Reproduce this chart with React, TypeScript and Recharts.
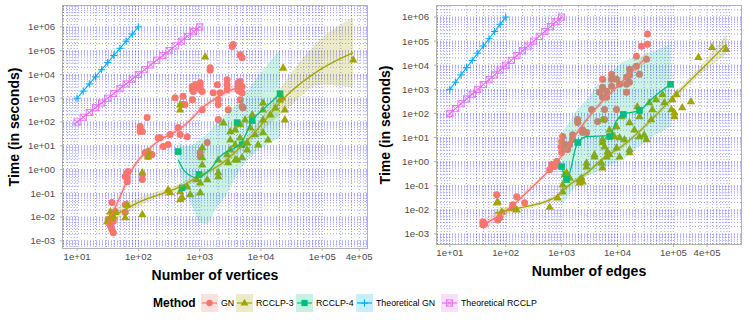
import React from 'react';
import { ComposedChart, XAxis, YAxis, CartesianGrid, Scatter, Line, Area } from 'recharts';

const FONT = '"Liberation Sans", Arial, Helvetica, sans-serif';
const C_GN = '#F8766D';
const C_R3 = '#A3A500';
const C_R4 = '#00BF7D';
const C_TGN = '#00B0F6';
const C_TR = '#E76BF3';

const xTickValues = [10, 100, 1000, 10000, 100000, 400000];
const xTickLabels = ['1e+01', '1e+02', '1e+03', '1e+04', '1e+05', '4e+05'];
const yTickValues = [0.001, 0.01, 0.1, 1, 10, 100, 1000, 10000, 100000, 1000000];
const yTickLabels = ['1e-03', '1e-02', '1e-01', '1e+00', '1e+01', '1e+02', '1e+03', '1e+04', '1e+05', '1e+06'];
const legendLabels = ['GN', 'RCCLP-3', 'RCCLP-4', 'Theoretical GN', 'Theoretical RCCLP'];

// Theoretical curves (same in both panels)
const theoGN = [
  [10, 1000], [12.59, 1995], [15.85, 3981], [19.95, 7943], [25.12, 15849], [31.62, 31623],
  [39.81, 63096], [50.12, 125893], [63.1, 251189], [79.43, 501187], [100, 1000000],
];
const theoRCCLP = [
  [10, 100], [12.59, 158.5], [15.85, 251.2], [19.95, 398.1], [25.12, 631], [31.62, 1000],
  [39.81, 1585], [50.12, 2512], [63.1, 3981], [79.43, 6310], [100, 10000], [125.9, 15849],
  [158.5, 25119], [199.5, 39811], [251.2, 63096], [316.2, 100000], [398.1, 158489],
  [501.2, 251189], [631, 398107], [794.3, 630957], [1000, 1000000],
];

// ---- Left panel: number of vertices ----
const gnVertices = [
  [37, 0.041], [42, 0.017], [39, 0.0066], [35, 0.0044], [37, 0.003], [39, 0.0022], [32, 0.0079], [34, 0.0055],
  [61, 0.034], [61, 0.016], [66, 0.75], [66, 0.46], [68, 0.83], [61, 0.51], [66, 0.31], [64, 0.62],
  [116, 0.62], [116, 0.38], [129, 5.2], [144, 5.7], [139, 4.3], [167, 4.3], [144, 3.5], [107, 64], [107, 48],
  [107, 40], [139, 153], [226, 22], [210, 22], [306, 11.2], [254, 9.3], [330, 30], [398, 1060], [446, 58],
  [480, 30], [626, 24], [535, 1200], [516, 540], [576, 540], [758, 870], [758, 3100], [758, 2300], [786, 1900],
  [850, 3700], [900, 2800], [1022, 3100], [1022, 2300], [1100, 1900], [1022, 4500], [1100, 330], [1483, 19000],
  [1483, 15000], [1660, 1700], [1940, 3700], [2010, 126], [2010, 870], [2010, 540], [2160, 1700], [2800, 6000],
  [2800, 3700], [2800, 2300], [2920, 330], [3520, 180000], [3400, 150000], [4240, 4500], [4240, 3100],
  [4240, 2300], [4560, 5000], [4560, 1900], [4920, 3100], [4920, 1700], [4560, 870], [4560, 68000],
  [4920, 51000], [4920, 445], [5100, 400], [1330, 13.6], [1022, 5.2], [1022, 3.5], [116, 40],
];
const r3Vertices = [
  [35, 0.017], [35, 0.0096], [42, 0.016], [31, 0.0066], [39, 0.011], [61, 0.0096], [66, 0.034], [116, 0.75],
  [116, 0.013], [144, 5.7], [144, 3.5], [306, 0.144], [330, 0.108], [480, 0.12], [480, 0.055], [516, 0.067],
  [626, 0.19], [700, 0.089], [900, 0.38], [1022, 0.28], [1022, 0.108], [1100, 8.4], [1100, 3.2], [1100, 1.6],
  [1230, 56000], [1330, 0.38], [2010, 2.6], [2010, 0.75], [2010, 0.51], [2440, 94], [2800, 4.3], [2920, 1.97],
  [3160, 40], [3160, 18], [3160, 6.9], [3800, 48], [3800, 11.2], [3800, 2.6], [4080, 2.6], [4560, 78],
  [4560, 22], [4920, 3.2], [5500, 126], [5950, 13.6], [5950, 6.9], [6700, 58], [7200, 205], [8000, 30],
  [9000, 11.2], [10800, 650], [10800, 330], [10800, 126], [10800, 36], [13000, 18], [14200, 205], [17200, 400],
  [20500, 870], [22000, 1060], [23000, 19000], [24500, 330], [24500, 126], [320000, 42000], [480, 540], [480, 330],
];
const r4Vertices = [[446, 5.7], [516, 0.17], [980, 0.62], [4920, 11.2], [4080, 94], [7200, 115], [20500, 1550]];

const gnVerticesFit = [
  [31, 0.005, 0.0025, 0.01], [40, 0.02, 0.011, 0.035], [55, 0.12, 0.075, 0.19], [75, 0.8, 0.55, 1.15],
  [100, 2.5, 1.8, 3.4], [130, 5, 3.8, 6.6], [170, 10, 7.8, 12.8], [230, 18, 14, 23], [400, 40, 31, 52],
  [535, 64, 49, 83], [800, 170, 130, 225], [1100, 400, 300, 530], [1500, 700, 520, 950],
  [2800, 1900, 1350, 2700], [4600, 3100, 2000, 4800],
];
const r3VerticesFit = [
  [31, 0.0079, 0.004, 0.016], [107, 0.045, 0.03, 0.07], [480, 0.19, 0.14, 0.26], [1020, 0.56, 0.42, 0.75],
  [2160, 1.6, 1.2, 2.1], [4500, 8, 5.5, 12], [7400, 30, 19, 48], [27000, 1400, 350, 7000],
  [92000, 16000, 3700, 290000], [320000, 83000, 2800, 2500000],
];
const r4VerticesLine = [
  [446, 2.6], [576, 0.82], [900, 0.46], [1480, 1], [2160, 3.5], [4920, 15], [7200, 115], [11700, 400], [20500, 1550],
];
const r4VerticesBand = [
  [446, 1.5, 15], [576, 0.15, 10], [800, 0.02, 12], [1000, 0.006, 18], [1300, 0.005, 30], [1800, 0.02, 80],
  [2800, 0.1, 250], [4560, 1, 800], [7200, 4, 4000], [11700, 10, 20000], [20500, 22, 110000],
];

// ---- Right panel: number of edges ----
const gnEdges = [
  [39, 0.0032], [39, 0.0024], [42, 0.0026], [69, 0.042], [78, 0.0047], [72, 0.0038], [133, 0.016], [133, 0.012],
  [157, 0.035], [218, 0.0195], [611, 0.46], [663, 0.75], [750, 0.62], [815, 1], [815, 0.75], [1000, 6.8],
  [1042, 11], [1132, 5.1], [1280, 3.2], [1390, 5.1], [1572, 13], [1572, 8.3], [1930, 56], [1930, 42], [2370, 21],
  [2370, 16], [2795, 16], [3435, 147], [4390, 46], [4775, 750], [5400, 2610], [5400, 1210], [5400, 464],
  [5860, 147], [5860, 56], [6365, 825], [6365, 464], [7820, 4220], [7820, 2610], [7820, 1330], [9600, 2610],
  [9600, 147], [10900, 1620], [14500, 3160], [14500, 1620], [14500, 750], [16400, 6810], [16400, 3830],
  [16400, 1960], [21800, 23700], [21800, 9090], [24700, 4220], [26800, 62000], [33000, 17800], [34400, 196000],
  [34400, 75000], [1000, 2.4], [980, 4],
];
const r3Edges = [
  [69, 0.0195], [72, 0.0215], [85, 0.0083], [157, 0.01], [611, 0.013], [850, 0.032], [1042, 0.11], [1042, 0.056],
  [1132, 0.29], [1230, 0.35], [1230, 0.215], [1390, 0.215], [2100, 0.178], [2100, 0.133], [2270, 0.215],
  [2370, 0.147], [2795, 0.9], [2795, 0.62], [3870, 1.96], [3870, 1.6], [5160, 0.9], [5400, 8.3], [5400, 6.2],
  [5400, 56], [5400, 0.56], [5860, 4.2], [6365, 1.6], [6620, 2.6], [7200, 21], [7200, 1.96], [8150, 13],
  [8800, 11], [9600, 28.7], [9600, 3.8], [10900, 10], [10900, 1.6], [11800, 75], [13300, 8.3], [16400, 42],
  [16400, 3.2], [16400, 2.4], [20000, 21], [22600, 196], [24700, 75], [24700, 11], [30000, 13], [33000, 8.3],
  [37000, 287], [40000, 56], [42000, 147], [49000, 383], [64000, 619], [69000, 287], [92000, 147], [96000, 383],
  [104000, 110], [104000, 75], [113000, 619], [144000, 178], [206000, 316], [280000, 21500], [490000, 56000],
  [880000, 46000],
];
const r4Edges = [[1000, 0.62], [1230, 0.18], [1940, 6.2], [7200, 11], [12700, 91], [24700, 133], [89000, 1620]];

const gnEdgesFit = [
  [39, 0.0024, 0.0013, 0.0045], [78, 0.006, 0.0042, 0.0085], [133, 0.015, 0.011, 0.02], [270, 0.07, 0.055, 0.09],
  [611, 0.46, 0.36, 0.59], [1000, 1.7, 1.35, 2.15], [2050, 21, 16.5, 27], [4775, 240, 190, 305],
  [10900, 1620, 1250, 2100], [34400, 24000, 15000, 38000],
];
const r3EdgesFit = [
  [64, 0.0075, 0.0052, 0.011], [178, 0.012, 0.0095, 0.015], [497, 0.0215, 0.017, 0.027], [750, 0.032, 0.025, 0.041],
  [1390, 0.11, 0.085, 0.14], [2900, 0.35, 0.28, 0.44], [5400, 1.3, 1.05, 1.6], [11800, 4.2, 3.4, 5.2],
  [24700, 18, 14.5, 22.5], [46000, 75, 58, 97], [138000, 1000, 720, 1400], [320000, 6800, 4500, 10500],
  [890000, 75000, 29000, 195000],
];
const r4EdgesLine = [
  [1000, 0.62], [1230, 0.18], [1940, 6.2], [2900, 11], [7200, 12], [9600, 50], [12700, 91], [24700, 133],
  [46000, 510], [89000, 1620],
];
const r4EdgesBand = [
  [1000, 0.015, 15], [1230, 0.03, 30], [1940, 0.12, 150], [2900, 0.25, 400], [4390, 0.4, 1500],
  [7200, 0.7, 4000], [11800, 1.2, 13000], [26800, 5, 24000], [46000, 12, 40000], [89000, 28, 75000],
];

// ---------- helpers ----------
const pts = (a: number[][]) => a.map(([x, y]) => ({ x, y }));
const fitLine = (a: number[][]) => a.map(([x, y]) => ({ x, y }));
const fitBand = (a: number[][]) => a.map((r) => ({ x: r[0], band: [r[r.length - 2], r[r.length - 1]] }));

const gridVals: number[] = [];
for (let e = -4; e <= 7; e++) for (let m = 1; m <= 9; m++) gridVals.push(m * Math.pow(10, e));

const fmt = (vals: number[], labels: string[]) => (v: number) => {
  let best = 0;
  vals.forEach((t, i) => {
    if (Math.abs(Math.log10(t) - Math.log10(v)) < Math.abs(Math.log10(vals[best]) - Math.log10(v))) best = i;
  });
  return labels[best];
};

const circleShape = (p: any) => <circle cx={p.cx} cy={p.cy} r={3.5} fill={C_GN} />;
const triShape = (p: any) => (
  <polygon points={`${p.cx},${p.cy - 4.5} ${p.cx - 4.2},${p.cy + 2.8} ${p.cx + 4.2},${p.cy + 2.8}`} fill={C_R3} />
);
const sqShape = (p: any) => <rect x={p.cx - 3.3} y={p.cy - 3.3} width={6.6} height={6.6} fill={C_R4} />;
const PlusMark = ({ cx, cy }: any) => (
  <g stroke={C_TGN} strokeWidth={1.1} fill="none">
    <line x1={cx - 3.6} y1={cy} x2={cx + 3.6} y2={cy} />
    <line x1={cx} y1={cy - 3.6} x2={cx} y2={cy + 3.6} />
  </g>
);
const BoxMark = ({ cx, cy }: any) => (
  <g stroke={C_TR} strokeWidth={0.9} fill="none">
    <rect x={cx - 3.1} y={cy - 3.1} width={6.2} height={6.2} />
    <line x1={cx - 3.1} y1={cy - 3.1} x2={cx + 3.1} y2={cy + 3.1} />
    <line x1={cx - 3.1} y1={cy + 3.1} x2={cx + 3.1} y2={cy - 3.1} />
  </g>
);
const plusDot = (p: any) => <PlusMark key={`p${p.index}`} cx={p.cx} cy={p.cy} />;
const boxDot = (p: any) => <BoxMark key={`b${p.index}`} cx={p.cx} cy={p.cy} />;

type PanelProps = {
  left: number; plotW: number; yW: number; xH: number;
  xDom: number[]; yDom: number[];
  gn: number[][]; r3: number[][]; r4: number[][];
  gnFit: number[][]; r3Fit: number[][]; r4Line: number[][]; r4Band: number[][];
};

function Panel(pr: PanelProps) {
  const H = 290;
  const RM = 14;
  const width = pr.yW + pr.plotW + RM;
  const plotL = pr.left + pr.yW;
  const plotR = plotL + pr.plotW;
  const plotB = H - pr.xH;
  const gx = gridVals.filter((v) => v > pr.xDom[0] && v < pr.xDom[1]);
  const gy = gridVals.filter((v) => v > pr.yDom[0] && v < pr.yDom[1]);
  const tickStyle = { fill: '#4d4d4d', fontSize: 9.6, fontFamily: FONT };
  const anyProps: any = {};
  return (
    <>
      <div style={{ position: 'absolute', left: pr.left, top: 0 }}>
        <ComposedChart width={width} height={H} margin={{ top: 6, right: RM, left: 0, bottom: 0 }}>
          <CartesianGrid
            horizontalValues={gy}
            verticalValues={gx}
            stroke="#3333ff"
            strokeOpacity={0.6}
            strokeDasharray="1 2"
            strokeWidth={0.8}
          />
          <XAxis
            type="number" dataKey="x" scale="log" domain={pr.xDom} allowDataOverflow
            ticks={xTickValues} interval={0} tickFormatter={fmt(xTickValues, xTickLabels)}
            height={pr.xH} axisLine={false} tickLine={{ stroke: '#b3b3b3' }} tickSize={3} tickMargin={2}
            tick={tickStyle}
          />
          <YAxis
            type="number" dataKey="y" scale="log" domain={pr.yDom} allowDataOverflow
            ticks={yTickValues} interval={0} tickFormatter={fmt(yTickValues, yTickLabels)}
            width={pr.yW} axisLine={false} tickLine={{ stroke: '#b3b3b3' }} tickSize={3} tickMargin={5}
            tick={tickStyle}
          />
          <Scatter {...anyProps} zIndex={50} data={pts(pr.gn)} shape={circleShape} isAnimationActive={false} />
          <Scatter {...anyProps} zIndex={51} data={pts(pr.r3)} shape={triShape} isAnimationActive={false} />
          <Scatter {...anyProps} zIndex={52} data={pts(pr.r4)} shape={sqShape} isAnimationActive={false} />
          <Area data={fitBand(pr.gnFit)} dataKey="band" type="monotone" stroke="none" fill={C_GN} fillOpacity={0.22} isAnimationActive={false} />
          <Area data={fitBand(pr.r3Fit)} dataKey="band" type="monotone" stroke="none" fill={C_R3} fillOpacity={0.22} isAnimationActive={false} />
          <Area data={fitBand(pr.r4Band)} dataKey="band" type="monotone" stroke="none" fill={C_R4} fillOpacity={0.2} isAnimationActive={false} />
          <Line data={fitLine(pr.gnFit)} dataKey="y" type="monotone" stroke={C_GN} strokeWidth={1.3} dot={false} isAnimationActive={false} />
          <Line data={fitLine(pr.r3Fit)} dataKey="y" type="monotone" stroke={C_R3} strokeWidth={1.3} dot={false} isAnimationActive={false} />
          <Line data={fitLine(pr.r4Line)} dataKey="y" type="monotone" stroke={C_R4} strokeWidth={1.3} dot={false} isAnimationActive={false} />
          <Line data={pts(theoGN)} dataKey="y" type="linear" stroke={C_TGN} strokeWidth={1.1} dot={plusDot} isAnimationActive={false} />
          <Line data={pts(theoRCCLP)} dataKey="y" type="linear" stroke={C_TR} strokeWidth={1.1} dot={boxDot} isAnimationActive={false} />
        </ComposedChart>
      </div>
      <div
        style={{
          position: 'absolute', left: plotL - 1, top: 5, width: plotR - plotL + 2, height: plotB - 6 + 2,
          border: '1px solid #b3b3b3', boxSizing: 'border-box', pointerEvents: 'none',
        }}
      />
    </>
  );
}

const LegendKey = ({ idx }: { idx: number }) => {
  const colors = [C_GN, C_R3, C_R4, C_TGN, C_TR];
  const c = colors[idx];
  const cx = 8.5;
  const cy = 9;
  return (
    <svg width={17} height={18} style={{ display: 'block' }}>
      <rect x={0} y={0} width={17} height={18} fill={c} fillOpacity={0.22} />
      <line x1={1} y1={cy} x2={16} y2={cy} stroke={c} strokeWidth={1.2} />
      {idx === 0 && <circle cx={cx} cy={cy} r={3.2} fill={c} />}
      {idx === 1 && <polygon points={`${cx},${cy - 4.2} ${cx - 4},${cy + 2.6} ${cx + 4},${cy + 2.6}`} fill={c} />}
      {idx === 2 && <rect x={cx - 3.1} y={cy - 3.1} width={6.2} height={6.2} fill={c} />}
      {idx === 3 && <PlusMark cx={cx} cy={cy} />}
      {idx === 4 && <BoxMark cx={cx} cy={cy} />}
    </svg>
  );
};

export default function App() {
  const keyX = [201, 236, 296, 356, 441];
  const textStyle = { fontFamily: FONT, color: '#000' } as const;
  return (
    <div style={{ position: 'absolute', left: 0, top: 0, width: 747, height: 320, background: '#fff', overflow: 'hidden' }}>
      <Panel
        left={0} plotW={304} yW={63} xH={42}
        xDom={[5.89, 537000]} yDom={[0.0005, 7590000]}
        gn={gnVertices} r3={r3Vertices} r4={r4Vertices}
        gnFit={gnVerticesFit} r3Fit={r3VerticesFit} r4Line={r4VerticesLine} r4Band={r4VerticesBand}
      />
      <Panel
        left={370} plotW={304} yW={67} xH={46}
        xDom={[5.89, 1620000]} yDom={[0.00038, 2880000]}
        gn={gnEdges} r3={r3Edges} r4={r4Edges}
        gnFit={gnEdgesFit} r3Fit={r3EdgesFit} r4Line={r4EdgesLine} r4Band={r4EdgesBand}
      />
      {/* axis titles */}
      <div style={{ ...textStyle, position: 'absolute', left: 14, top: 127, fontSize: 14, fontWeight: 700, whiteSpace: 'nowrap', transform: 'translate(-50%, -50%) rotate(-90deg)' }}>
        Time (in seconds)
      </div>
      <div style={{ ...textStyle, position: 'absolute', left: 385, top: 125, fontSize: 14, fontWeight: 700, whiteSpace: 'nowrap', transform: 'translate(-50%, -50%) rotate(-90deg)' }}>
        Time (in seconds)
      </div>
      <div style={{ ...textStyle, position: 'absolute', left: 215, top: 275, fontSize: 14, fontWeight: 700, whiteSpace: 'nowrap', transform: 'translate(-50%, -50%)' }}>
        Number of vertices
      </div>
      <div style={{ ...textStyle, position: 'absolute', left: 589, top: 271, fontSize: 14, fontWeight: 700, whiteSpace: 'nowrap', transform: 'translate(-50%, -50%)' }}>
        Number of edges
      </div>
      {/* legend */}
      <div style={{ ...textStyle, position: 'absolute', left: 153, top: 303, fontSize: 12, fontWeight: 700, whiteSpace: 'nowrap', transform: 'translateY(-50%)' }}>
        Method
      </div>
      {legendLabels.map((lab, i) => (
        <React.Fragment key={lab}>
          <div style={{ position: 'absolute', left: keyX[i], top: 294 }}>
            <LegendKey idx={i} />
          </div>
          <div style={{ ...textStyle, position: 'absolute', left: keyX[i] + 20, top: 303, fontSize: 8.8, whiteSpace: 'nowrap', transform: 'translateY(-50%)' }}>
            {lab}
          </div>
        </React.Fragment>
      ))}
    </div>
  );
}
